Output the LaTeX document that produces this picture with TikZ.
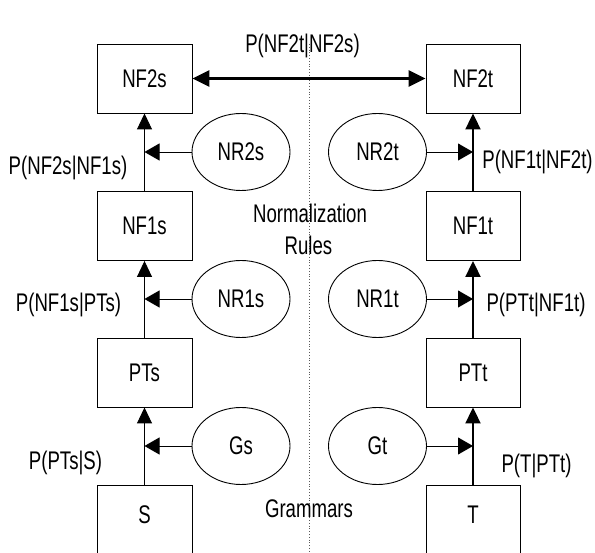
\documentclass[tikz,border=0pt]{standalone}
\usepackage{fontspec}
\setmainfont[FakeStretch=0.73]{Liberation Sans}
\usetikzlibrary{arrows.meta,shapes.geometric}
\begin{document}
\begin{tikzpicture}[x=1pt,y=-1pt,
  every node/.style={font=\fontsize{25.5}{33}\selectfont},
  box/.style={draw,line width=0.9pt,minimum width=95pt,minimum height=69pt,inner sep=0pt},
  boxr/.style={box,minimum width=94pt},
  rulenode/.style={draw,ellipse,line width=0.9pt,minimum width=98pt,minimum height=77pt,inner sep=0pt},
  lab/.style={inner sep=0pt,anchor=base},
  upthin/.style={line width=0.9pt,-{Triangle[length=16pt,width=15pt]}},
  upthick/.style={line width=2pt,-{Triangle[length=16pt,width=15pt]}},
  side/.style={line width=0.9pt,-{Triangle[length=15pt,width=17pt]}},
  both/.style={line width=3pt,{Triangle[length=17pt,width=16pt]}-{Triangle[length=17pt,width=16pt]}},
  divider/.style={dotted,line width=0.8pt,black!65}]
\useasboundingbox (0,0) rectangle (595,553);
\clip (0,0) rectangle (595,553);

% dividing line between source and target sides
\coordinate (divtop) at (309,44);
\coordinate (divbot) at (309,553);
\draw[divider] (divtop) -- (divbot);

% source side
\node[box] (NF2s) at (144.5,78.5) {NF2s};
\node[box] (NF1s) at (144.5,226) {NF1s};
\node[box] (PTs) at (144.5,372.5) {PTs};
\node[box,minimum height=72pt,text depth=12pt] (S) at (144.5,521) {S};

% target side
\node[boxr] (NF2t) at (473,78.5) {NF2t};
\node[boxr] (NF1t) at (473,226) {NF1t};
\node[boxr] (PTt) at (473,372.5) {PTt};
\node[boxr,minimum height=72pt,text depth=12pt] (T) at (473,521) {T};

% rule sets
\node[rulenode] (NR2s) at (241,152) {NR2s};
\node[rulenode] (NR1s) at (241,299) {NR1s};
\node[rulenode] (Gs) at (241,446) {Gs};
\node[rulenode] (NR2t) at (377.5,152) {NR2t};
\node[rulenode] (NR1t) at (377.5,299) {NR1t};
\node[rulenode] (Gt) at (377.5,446) {Gt};

% derivation chains
\draw[upthin] (S.north) -- (PTs.south);
\draw[upthin] (PTs.north) -- (NF1s.south);
\draw[upthin] (NF1s.north) -- (NF2s.south);
\draw[upthick] (T.north) -- (PTt.south);
\draw[upthick] (PTt.north) -- (NF1t.south);
\draw[upthick] (NF1t.north) -- (NF2t.south);

% rules feeding the chains
\draw[side] (NR2s.west) -- (NR2s.west -| NF2s.south);
\draw[side] (NR1s.west) -- (NR1s.west -| NF1s.south);
\draw[side] (Gs.west) -- (Gs.west -| PTs.south);
\draw[side] (NR2t.east) -- (NR2t.east -| NF2t.south);
\draw[side] (NR1t.east) -- (NR1t.east -| NF1t.south);
\draw[side] (Gt.east) -- (Gt.east -| PTt.south);

% alignment of the normal forms
\draw[both] (NF2s.east) -- (NF2t.west);

% probabilities
\node[lab] (pTop) at (302.5,53) {P(NF2t|NF2s)};
\node[lab] (pL2) at (68,175) {P(NF2s|NF1s)};
\node[lab] (pL1) at (68.5,312) {P(NF1s|PTs)};
\node[lab] (pL0) at (65.5,470) {P(PTs|S)};
\node[lab] (pR2) at (537.5,169) {P(NF1t|NF2t)};
\node[lab] (pR1) at (536,312) {P(PTt|NF1t)};
\node[lab] (pR0) at (536.5,472) {P(T|PTt)};

% group captions
\node[lab] (capNorm) at (310,223) {Normalization};
\node[lab] (capRules) at (308.5,255) {Rules};
\node[lab] (capGram) at (309,518) {Grammars};
\end{tikzpicture}
\end{document}
